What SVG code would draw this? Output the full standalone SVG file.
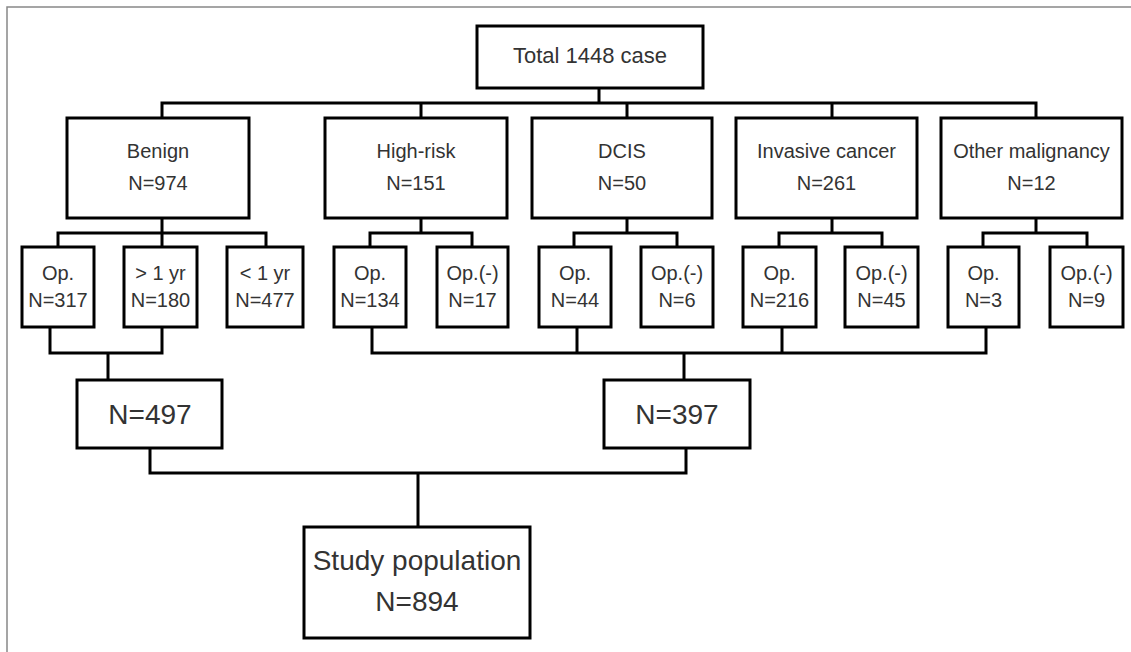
<svg xmlns="http://www.w3.org/2000/svg" width="1131" height="652" viewBox="0 0 1131 652">
<style>
.box{fill:#fff;stroke:#000;stroke-width:3}
.ln{fill:none;stroke:#000;stroke-width:3;stroke-linecap:square}
text{font-family:"Liberation Sans",Arial,sans-serif;fill:#333;text-anchor:middle}
.t1{font-size:22px}
.t2{font-size:20px}
.t3{font-size:28px}
</style>
<rect width="1131" height="652" fill="#fff"/>
<path d="M7,652 V7 H1131" fill="none" stroke="#888" stroke-width="1.5"/>
<g id="connectors" class="ln">
<path class="ln" d="M599,88 V103 M162,103 H1036 M162,103 V118 M421,103 V118 M627,103 V118 M832,103 V118 M1036,103 V118"/>
<path class="ln" d="M162,218 V247 M58,233 H266 M58,233 V247 M266,233 V247"/>
<path class="ln" d="M421,218 V233 M370,233 H472 M370,233 V247 M472,233 V247"/>
<path class="ln" d="M627,218 V233 M574,233 H677 M574,233 V247 M677,233 V247"/>
<path class="ln" d="M832,218 V233 M779,233 H882 M779,233 V247 M882,233 V247"/>
<path class="ln" d="M1036,218 V233 M983,233 H1087 M983,233 V247 M1087,233 V247"/>
<path class="ln" d="M50,327 V353 M162,327 V353 M50,353 H162 M108,353 V380"/>
<path class="ln" d="M372,327 V353 M577,327 V353 M782,327 V353 M986,327 V353 M372,353 H986 M684,353 V380"/>
<path class="ln" d="M150,448 V473 M686,448 V473 M150,473 H686 M418,473 V527"/>
</g>
<g id="total"><rect class="box" x="477" y="26" width="226" height="62"/><text class="t1" x="590" y="63">Total 1448 case</text></g>
<g id="benign"><rect class="box" x="67" y="118" width="182" height="100"/><text class="t2" x="158" y="158">Benign</text><text class="t2" x="158" y="190">N=974</text></g>
<g id="highrisk"><rect class="box" x="325" y="118" width="182" height="100"/><text class="t2" x="416" y="158">High-risk</text><text class="t2" x="416" y="190">N=151</text></g>
<g id="dcis"><rect class="box" x="532" y="118" width="180" height="100"/><text class="t2" x="622" y="158">DCIS</text><text class="t2" x="622" y="190">N=50</text></g>
<g id="invasive"><rect class="box" x="736" y="118" width="181" height="100"/><text class="t2" x="826.5" y="158">Invasive cancer</text><text class="t2" x="826.5" y="190">N=261</text></g>
<g id="other"><rect class="box" x="941" y="118" width="181" height="100"/><text class="t2" x="1031.5" y="158">Other malignancy</text><text class="t2" x="1031.5" y="190">N=12</text></g>
<g id="benign-op"><rect class="box" x="22" y="247" width="72" height="80"/><text class="t2" x="58" y="280">Op.</text><text class="t2" x="58" y="307">N=317</text></g>
<g id="benign-gt1"><rect class="box" x="124" y="247" width="73" height="80"/><text class="t2" x="160.5" y="280">&gt; 1 yr</text><text class="t2" x="160.5" y="307">N=180</text></g>
<g id="benign-lt1"><rect class="box" x="227" y="247" width="76" height="80"/><text class="t2" x="265" y="280">&lt; 1 yr</text><text class="t2" x="265" y="307">N=477</text></g>
<g id="hr-op"><rect class="box" x="334" y="247" width="72" height="80"/><text class="t2" x="370" y="280">Op.</text><text class="t2" x="370" y="307">N=134</text></g>
<g id="hr-opneg"><rect class="box" x="437" y="247" width="71" height="80"/><text class="t2" x="472.5" y="280">Op.(-)</text><text class="t2" x="472.5" y="307">N=17</text></g>
<g id="dcis-op"><rect class="box" x="539" y="247" width="72" height="80"/><text class="t2" x="575" y="280">Op.</text><text class="t2" x="575" y="307">N=44</text></g>
<g id="dcis-opneg"><rect class="box" x="641" y="247" width="72" height="80"/><text class="t2" x="677" y="280">Op.(-)</text><text class="t2" x="677" y="307">N=6</text></g>
<g id="inv-op"><rect class="box" x="743" y="247" width="73" height="80"/><text class="t2" x="779.5" y="280">Op.</text><text class="t2" x="779.5" y="307">N=216</text></g>
<g id="inv-opneg"><rect class="box" x="845" y="247" width="73" height="80"/><text class="t2" x="881.5" y="280">Op.(-)</text><text class="t2" x="881.5" y="307">N=45</text></g>
<g id="other-op"><rect class="box" x="948" y="247" width="71" height="80"/><text class="t2" x="983.5" y="280">Op.</text><text class="t2" x="983.5" y="307">N=3</text></g>
<g id="other-opneg"><rect class="box" x="1050" y="247" width="73" height="80"/><text class="t2" x="1086.5" y="280">Op.(-)</text><text class="t2" x="1086.5" y="307">N=9</text></g>
<g id="n497"><rect class="box" x="77" y="380" width="145" height="68"/><text class="t3" x="150" y="424">N=497</text></g>
<g id="n397"><rect class="box" x="604" y="380" width="146" height="68"/><text class="t3" x="677" y="424">N=397</text></g>
<g id="study"><rect class="box" x="304" y="527" width="226" height="111"/><text class="t3" x="417" y="570">Study population</text><text class="t3" x="417" y="611">N=894</text></g>
</svg>
